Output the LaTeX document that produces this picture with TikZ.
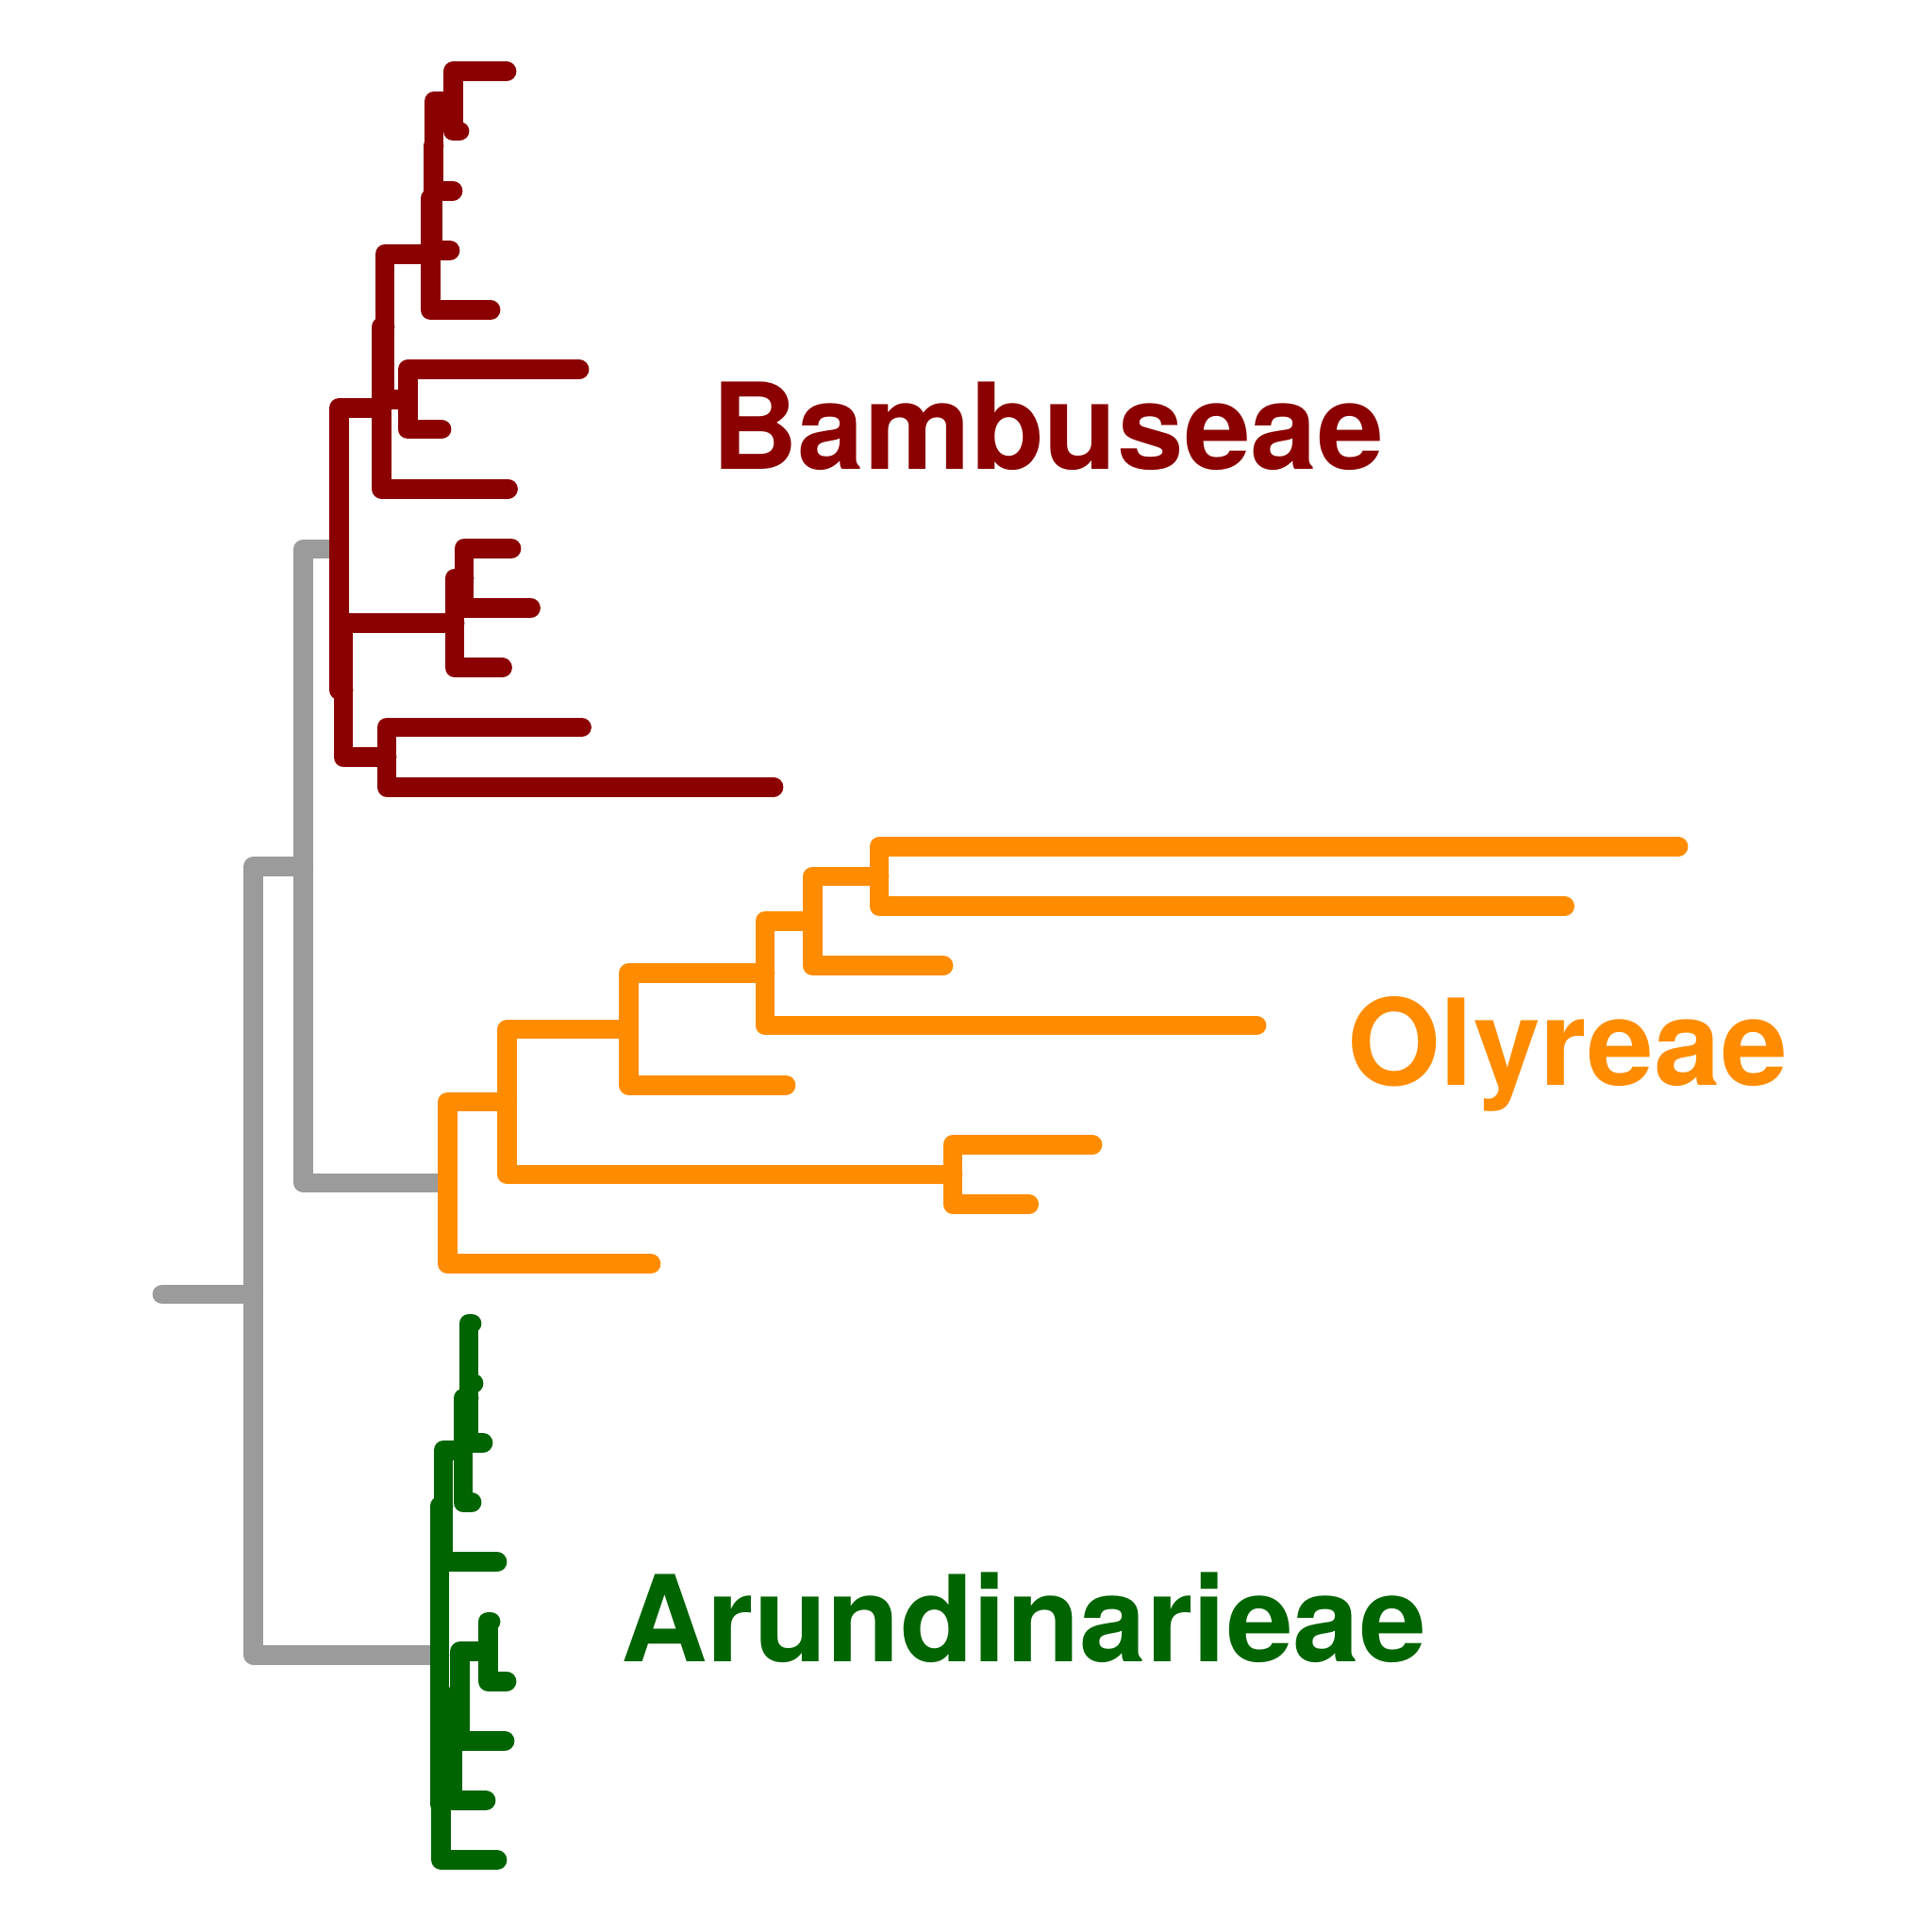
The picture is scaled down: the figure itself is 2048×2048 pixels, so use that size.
\documentclass[tikz,border=0pt]{standalone}
\usepackage{fontspec}
\newfontfamily\labfont{TeX Gyre Heros}
\definecolor{tgray}{RGB}{155,155,155}
\definecolor{tred}{RGB}{139,0,0}
\definecolor{torange}{RGB}{255,140,0}
\definecolor{tgreen}{RGB}{0,100,0}
\begin{document}
\begin{tikzpicture}[x=0.5pt,y=-0.5pt,
  br/.style={line width=10.4pt,line cap=round,line join=round},
  clade/.style={font=\labfont\bfseries\fontsize{63.5}{70}\selectfont,anchor=base west,inner sep=0pt,outer sep=0pt}]
\useasboundingbox (0,0) rectangle (2048,2048);
% ---- backbone
\coordinate (rootend) at (172,1372);
\coordinate (R) at (268.8,1372);
\coordinate (A) at (321.7,918.3);
\coordinate (P) at (359.5,581.9);
\coordinate (O) at (474.5,1253.9);
\coordinate (C) at (466,1754.5);
% ---- Bambuseae
\coordinate (t0) at (537,75.8);
\coordinate (t1) at (487,139);
\coordinate (t2) at (480,202.2);
\coordinate (t3) at (477,265.4);
\coordinate (t4) at (520,328.6);
\coordinate (t5) at (614,391.8);
\coordinate (t6) at (468,455);
\coordinate (t7) at (538.5,518.2);
\coordinate (t8) at (542,581.4);
\coordinate (t9) at (562.5,644.6);
\coordinate (t10) at (532.5,707.8);
\coordinate (t11) at (616.5,771);
\coordinate (t12) at (820,834.2);
\coordinate (n01) at (480.3,107.4);
\coordinate (n02) at (460,154.8);
\coordinate (n03) at (459,210.1);
\coordinate (n04) at (456.3,269.35);
\coordinate (n56) at (432.2,423.4);
\coordinate (X1) at (408,346.4);
\coordinate (X2) at (404.5,432.3);
\coordinate (n89) at (492,613);
\coordinate (n810) at (482,660.4);
\coordinate (n1112) at (410,802.6);
\coordinate (Q) at (364,731.5);
% ---- Olyreae
\coordinate (t13) at (1779,897.4);
\coordinate (t14) at (1658.6,960.6);
\coordinate (t15) at (1000,1023.8);
\coordinate (t16) at (1332,1087);
\coordinate (t17) at (833,1150.2);
\coordinate (t18) at (1158,1213.4);
\coordinate (t19) at (1090.7,1276.6);
\coordinate (t20) at (690,1339.8);
\coordinate (n1314) at (932,929);
\coordinate (n1315) at (861.5,976.4);
\coordinate (n1316) at (811,1031.7);
\coordinate (n1317) at (666.5,1091);
\coordinate (n1819) at (1010,1245);
\coordinate (n1319) at (537.8,1168);
% ---- Arundinarieae
\coordinate (t21) at (500,1403);
\coordinate (t22) at (502,1466.2);
\coordinate (t23) at (512,1529.4);
\coordinate (t24) at (500,1592.6);
\coordinate (t25) at (527,1655.8);
\coordinate (t26) at (520,1719);
\coordinate (t27) at (537,1782.2);
\coordinate (t28) at (535,1845.4);
\coordinate (t29) at (515,1908.6);
\coordinate (t30) at (527,1971.8);
\coordinate (n2122) at (497,1434.6);
\coordinate (n2123) at (497,1482);
\coordinate (n2124) at (491,1537.3);
\coordinate (n2125) at (470,1596.5);
\coordinate (n2627) at (517.3,1750.6);
\coordinate (n2628) at (487.8,1798);
\coordinate (Z) at (480,1853.3);
\coordinate (Y) at (467.8,1912.5);
% ---- gray edges
\begin{scope}[br,tgray]
\draw (rootend) -- (R);
\draw (R) |- (A);
\draw (R) |- (C);
\draw (A) |- (P);
\draw (A) |- (O);
\end{scope}
% ---- Bambuseae edges
\begin{scope}[br,tred]
\draw (P) |- (X2);
\draw (P) |- (Q);
\draw (X2) |- (X1);
\draw (X2) |- (t7);
\draw (X1) |- (n04);
\draw (X1) |- (n56);
\draw (n04) |- (n03);
\draw (n04) |- (t4);
\draw (n03) |- (n02);
\draw (n03) |- (t3);
\draw (n02) |- (n01);
\draw (n02) |- (t2);
\draw (n01) |- (t0);
\draw (n01) |- (t1);
\draw (n56) |- (t5);
\draw (n56) |- (t6);
\draw (Q) |- (n810);
\draw (Q) |- (n1112);
\draw (n810) |- (n89);
\draw (n810) |- (t10);
\draw (n89) |- (t8);
\draw (n89) |- (t9);
\draw (n1112) |- (t11);
\draw (n1112) |- (t12);
\end{scope}
% ---- Olyreae edges
\begin{scope}[br,torange]
\draw (O) |- (n1319);
\draw (O) |- (t20);
\draw (n1319) |- (n1317);
\draw (n1319) |- (n1819);
\draw (n1317) |- (n1316);
\draw (n1317) |- (t17);
\draw (n1316) |- (n1315);
\draw (n1316) |- (t16);
\draw (n1315) |- (n1314);
\draw (n1315) |- (t15);
\draw (n1314) |- (t13);
\draw (n1314) |- (t14);
\draw (n1819) |- (t18);
\draw (n1819) |- (t19);
\end{scope}
% ---- Arundinarieae edges
\begin{scope}[br,tgreen]
\draw (C) |- (n2125);
\draw (C) |- (Y);
\draw (n2125) |- (n2124);
\draw (n2125) |- (t25);
\draw (n2124) |- (n2123);
\draw (n2124) |- (t24);
\draw (n2123) |- (n2122);
\draw (n2123) |- (t23);
\draw (n2122) |- (t21);
\draw (n2122) |- (t22);
\draw (Y) |- (Z);
\draw (Y) |- (t30);
\draw (Z) |- (n2628);
\draw (Z) |- (t29);
\draw (n2628) |- (n2627);
\draw (n2628) |- (t28);
\draw (n2627) |- (t26);
\draw (n2627) |- (t27);
\end{scope}
% ---- clade labels
\node[clade,text=tred] (labB) at (754,497.6) {Bambuseae};
\node[clade,text=torange] (labO) at (1428,1150.6) {Olyreae};
\node[clade,text=tgreen] (labA) at (658,1761.8) {Arundinarieae};
\end{tikzpicture}
\end{document}
